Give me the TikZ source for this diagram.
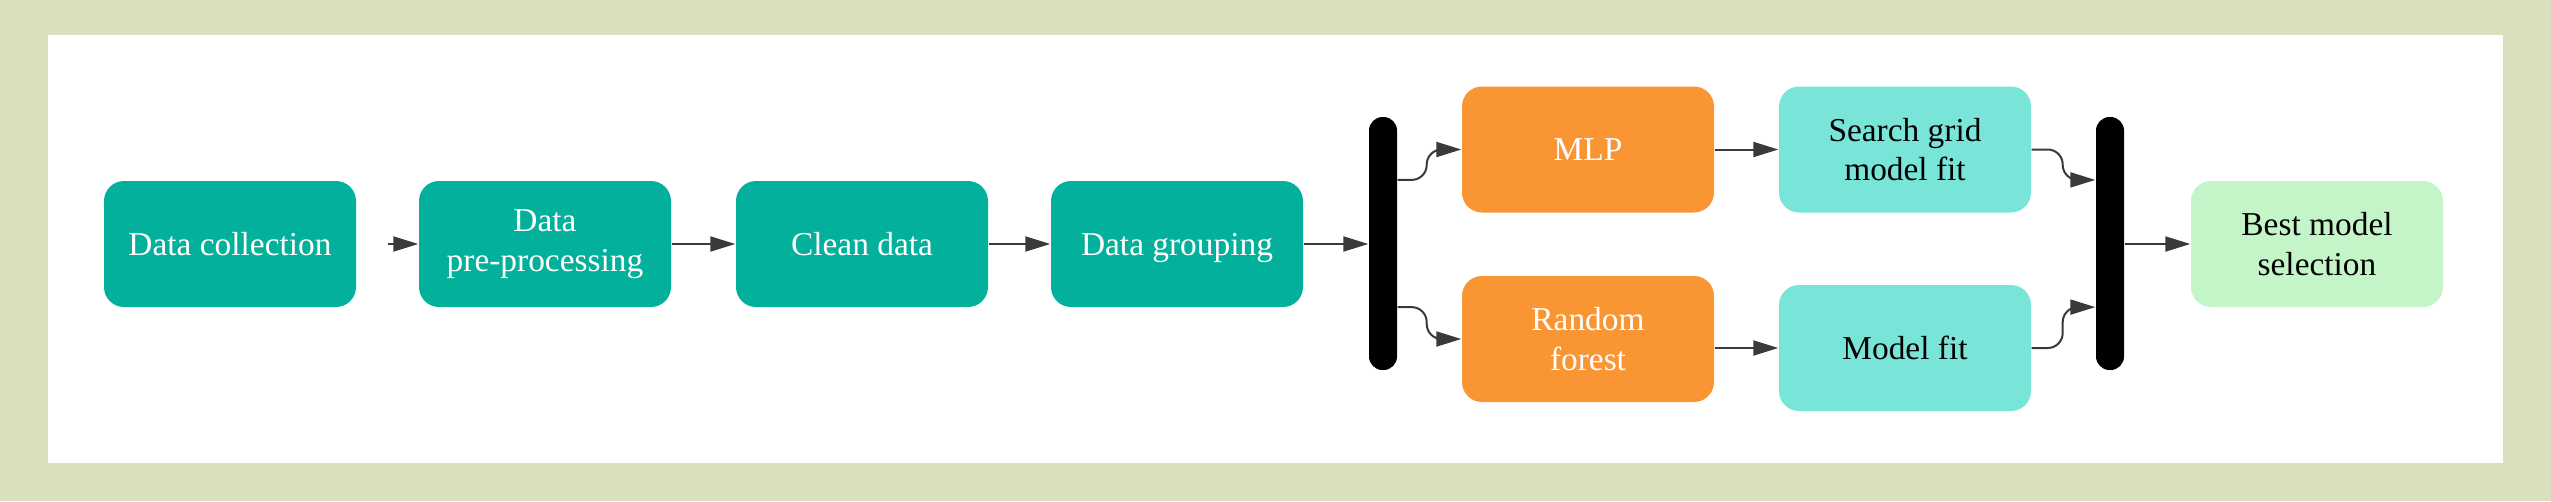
\documentclass[tikz,border=0pt]{standalone}
\usepackage{xcolor}
\usepackage{fontspec}
\setmainfont{Liberation Serif}
\usetikzlibrary{arrows.meta,calc}

\definecolor{framegreen}{HTML}{DAE0BE}
\definecolor{stepteal}{HTML}{03B09B}
\definecolor{modelorange}{HTML}{F99533}
\definecolor{fitcyan}{HTML}{79E5D8}
\definecolor{bestgreen}{HTML}{C3F5C8}
\definecolor{arrowgray}{HTML}{3A3A3A}

\begin{document}
\begin{tikzpicture}[
        boxbase/.style={rectangle, rounded corners=0.2cm, minimum width=2.52cm, minimum height=1.26cm, inner sep=0pt, align=center, font=\fontsize{9.5}{11.3}\selectfont},
        stepbox/.style={boxbase, fill=stepteal, text=white},
        modelbox/.style={boxbase, fill=modelorange, text=white},
        fitbox/.style={boxbase, fill=fitcyan, text=black},
        bestbox/.style={boxbase, fill=bestgreen, text=black},
        barnode/.style={rectangle, fill=black, rounded corners=0.135cm, minimum width=0.28cm, minimum height=2.53cm, inner sep=0pt},
        conn/.style={draw=arrowgray, line width=0.02cm, -{Triangle[length=0.25cm, width=0.15cm]}},
        bendconn/.style={conn, rounded corners=0.15cm},
    ]
        % frame and canvas
        \fill[framegreen] (0,0) rectangle (25.51,5.01);
        \fill[white] (0.48,0.38) rectangle (25.03,4.66);

        % main pipeline
        \node[stepbox] (coll) at (2.30,2.57) {Data collection};
        \node[stepbox] (prep) at (5.45,2.57) {Data\\pre-processing};
        \node[stepbox] (clean) at (8.62,2.57) {Clean data};
        \node[stepbox, text depth=0pt] (group) at (11.77,2.57) {Data grouping};
        \coordinate (collout) at (3.88,2.57);

        % split into models
        \node[barnode] (fork) at (13.83,2.575) {};
        \node[modelbox] (mlp) at (15.88,3.515) {MLP};
        \node[modelbox] (rf) at (15.88,1.62) {Random\\forest};
        \node[fitbox] (search) at (19.05,3.515) {Search grid\\model fit};
        \node[fitbox] (fit) at (19.05,1.53) {Model fit};

        % merge and select
        \node[barnode] (join) at (21.10,2.575) {};
        \node[bestbox] (best) at (23.17,2.57) {Best model\\selection};

        \draw[conn] (collout) -- (prep);
        \draw[conn] (prep) -- (clean);
        \draw[conn] (clean) -- (group);
        \draw[conn] (group.east) -- (group.east -| fork.west);

        \draw[bendconn] ($(fork.east)!0.5!(fork.north east)$) -- ++(0.29,0) |- (mlp.west);
        \draw[bendconn] ($(fork.east)!0.5!(fork.south east)$) -- ++(0.29,0) |- (rf.west);
        \draw[conn] (mlp) -- (search);
        \draw[conn] (rf.east |- fit) -- (fit);

        \draw[bendconn] (search.east) -- ++(0.31,0) |- ($(join.west)!0.5!(join.north west)$);
        \draw[bendconn] (fit.east) -- ++(0.31,0) |- ($(join.west)!0.5!(join.south west)$);
        \draw[conn] (join.east |- best) -- (best);
    \end{tikzpicture}
\end{document}
